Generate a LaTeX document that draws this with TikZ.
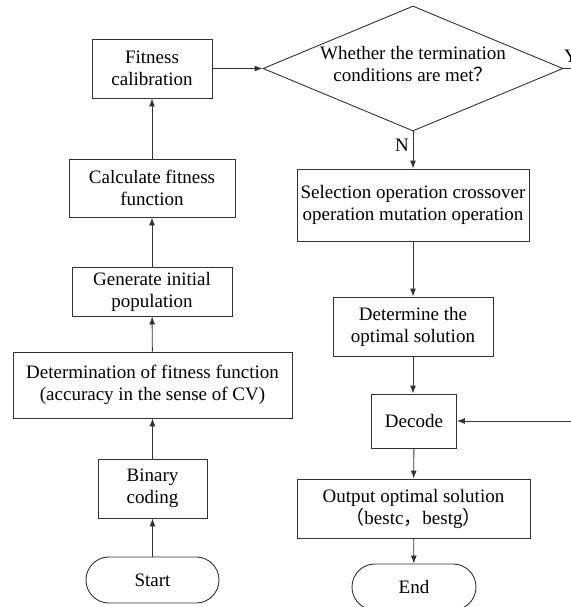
\documentclass[tikz,border=0pt]{standalone}
\usepackage{fontspec}
\setmainfont{Liberation Serif}
\newfontfamily\cjk{Noto Sans CJK SC}
\usetikzlibrary{shapes.geometric,arrows.meta}
\begin{document}
\begin{tikzpicture}[x=1pt,y=-1pt,
  every node/.style={font=\fontsize{19}{22}\selectfont},
  box/.style={draw=black!80,line width=0.9pt,rectangle,inner sep=0pt,align=center},
  term/.style={box,rounded corners=22.9pt},
  dec/.style={draw=black!80,line width=0.9pt,diamond,aspect=2.4,inner sep=0pt,minimum width=300pt,minimum height=125pt},
  arr/.style={draw=black!80,line width=0.9pt,-{Latex[length=8pt,width=6pt]}},
  lbl/.style={inner sep=0pt,align=center}]
\useasboundingbox (0,0) rectangle (570,607);
% left column
\node[box,minimum width=120pt,minimum height=59pt] (fc) at (152,68.5) {Fitness\\calibration};
\node[box,minimum width=166pt,minimum height=58pt] (cf) at (152,188) {Calculate fitness\\function};
\node[box,minimum width=160pt,minimum height=49pt] (gp) at (152,291.5) {Generate initial\\population};
\node[box,minimum width=279pt,minimum height=66pt] (df) at (152.5,385) {Determination of fitness function\\(accuracy in the sense of CV)};
\node[box,minimum width=109pt,minimum height=59pt] (bc) at (152.5,488.5) {Binary\\coding};
\node[term,minimum width=133pt,minimum height=46pt] (st) at (152.5,580) {Start};
% right column
\node[dec] (dm) at (413,68.5) {};
\node[lbl] (dmt) at (413,64) {Whether the termination\\conditions are met{\cjk ？}};
\node[box,minimum width=232pt,minimum height=72pt] (sel) at (413,205) {Selection operation crossover\\operation mutation operation};
\node[box,minimum width=160pt,minimum height=59pt] (det) at (413,326.5) {Determine the\\optimal solution};
\node[box,minimum width=85pt,minimum height=54pt] (dcd) at (414,421) {Decode};
\node[box,minimum width=233pt,minimum height=59pt] (out) at (413.5,508.5) {Output optimal solution\\{\cjk （}bestc{\cjk ，}bestg{\cjk ）}};
\node[term,minimum width=124pt,minimum height=46pt] (en) at (414,587) {End};
% labels
\node[lbl,anchor=base west] (ylab) at (564,63) {Y};
\node[lbl] (nlab) at (402,145) {N};
\coordinate (yend) at (575,68.5);
\coordinate (rin) at (575,421);
% connectors
\draw[arr] (st) -- (bc);
\draw[arr] (bc) -- (df);
\draw[arr] (df) -- (gp);
\draw[arr] (gp) -- (cf);
\draw[arr] (cf) -- (fc);
\draw[arr] (fc) -- (dm);
\draw[draw=black!80,line width=0.9pt] (dm.east) -- (yend);
\draw[arr] (dm.south) -- (sel.north);
\draw[arr] (sel) -- (det);
\draw[arr] (det) -- (det |- dcd.north);
\draw[arr] (rin) -- (dcd.east);
\draw[arr] (dcd) -- (out);
\draw[arr] (out) -- (en);
\end{tikzpicture}
\end{document}
